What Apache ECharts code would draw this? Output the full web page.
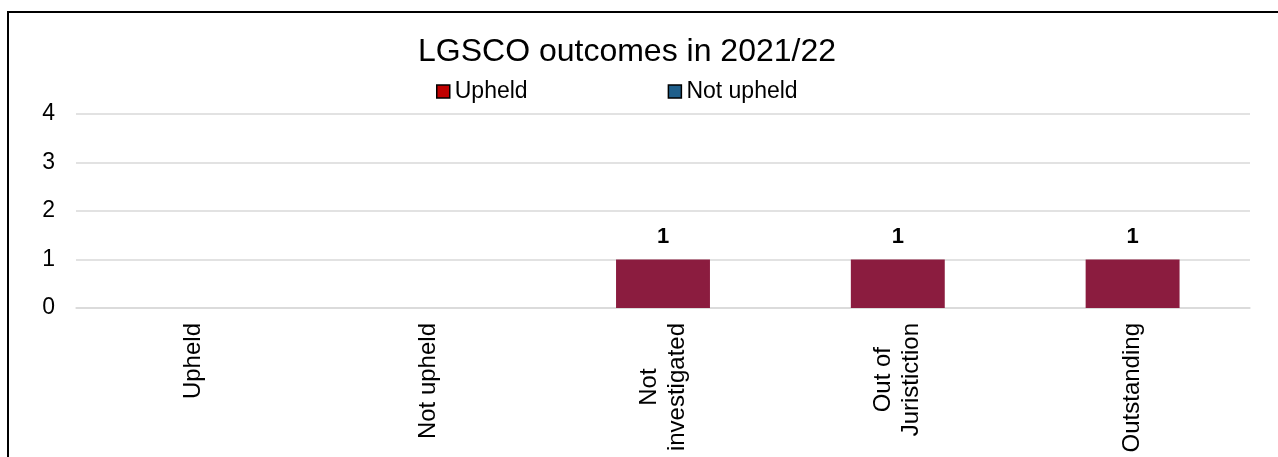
<!DOCTYPE html>
<html>
<head>
<meta charset="utf-8">
<script src="https://cdn.jsdelivr.net/npm/echarts@6/dist/echarts.min.js"></script>
<style>
  html, body { margin: 0; padding: 0; background: #fff; }
  #frame { position: absolute; left: 7px; top: 11px; width: 1300px; height: 480px;
           border-left: 2px solid #000; border-top: 2px solid #000; box-sizing: border-box; }
  #chart { position: absolute; left: 0; top: 0; width: 1278px; height: 457px; }
</style>
</head>
<body>
<div id="frame"></div>
<div id="chart"></div>
<script>
const titleText = 'LGSCO outcomes in 2021/22';
const categories = ['Upheld', 'Not upheld', 'Not\ninvestigated', 'Out of\nJuristiction', 'Outstanding'];
const seriesNames = ['Upheld', 'Not upheld'];
const upheldValues = [0, 0, 1, 1, 1];
const notUpheldValues = [0, 0, 0, 0, 0];
const yTicks = [0, 1, 2, 3, 4];

const FONT = 'Liberation Sans, Arial, sans-serif';
const XFS = 24;

// Centre the lines of multi-line axis labels on each other with spacer tokens.
const ctx = document.createElement('canvas').getContext('2d');
ctx.font = XFS + 'px "Liberation Sans", Arial, sans-serif';
const rich = { t: { fontFamily: FONT, fontSize: XFS, color: '#000', lineHeight: 28 } };
const labelMap = {};
categories.forEach((cat, i) => {
  const lines = cat.split('\n');
  const widths = lines.map(s => ctx.measureText(s).width);
  const maxW = Math.max(...widths);
  labelMap[cat] = lines.map((s, j) => {
    const pad = (maxW - widths[j]) / 2;
    if (pad < 0.5) return '{t|' + s + '}';
    const key = 's' + i + '_' + j;
    rich[key] = { width: pad, fontSize: XFS, lineHeight: 28 };
    return '{' + key + '|\u00a0}{t|' + s + '}{' + key + '|\u00a0}';
  }).join('\n');
});

const chart = echarts.init(document.getElementById('chart'));
chart.setOption({
  backgroundColor: 'transparent',
  animation: false,
  title: {
    text: titleText,
    left: 413, top: 31,
    textStyle: { fontFamily: FONT, fontSize: 32, fontWeight: 'normal', color: '#000' }
  },
  legend: {
    left: 431, top: 75,
    itemWidth: 13, itemHeight: 13, itemGap: 140,
    icon: 'rect',
    textStyle: { fontFamily: FONT, fontSize: 23, color: '#000' },
    itemStyle: { borderColor: '#000', borderWidth: 1.5 },
    data: [
      { name: seriesNames[0], itemStyle: { color: '#C00000', borderColor: '#000', borderWidth: 1.5 } },
      { name: seriesNames[1], itemStyle: { color: '#1F5F8B', borderColor: '#000', borderWidth: 1.5 } }
    ]
  },
  grid: { left: 76, right: 28, top: 114, bottom: 149, containLabel: false },
  xAxis: {
    type: 'category',
    data: categories,
    axisTick: { show: false },
    axisLine: { show: true, lineStyle: { color: '#d9d9d9', width: 1.5 } },
    axisLabel: {
      rotate: 90, margin: 15, interval: 0,
      fontFamily: FONT, fontSize: XFS, color: '#000', lineHeight: 28,
      formatter: v => labelMap[v],
      rich: rich
    }
  },
  yAxis: {
    type: 'value',
    min: yTicks[0], max: yTicks[yTicks.length - 1], interval: 1,
    axisLine: { show: false },
    axisTick: { show: false },
    splitLine: { lineStyle: { color: '#d9d9d9', width: 1.5 } },
    axisLabel: { margin: 21, fontFamily: FONT, fontSize: 23, color: '#000' }
  },
  series: [
    {
      name: seriesNames[0], type: 'bar', stack: 'total', barWidth: '40%',
      data: upheldValues,
      itemStyle: { color: '#8B1C3F' },
      label: {
        show: true, position: 'top', distance: 12,
        fontFamily: FONT, fontSize: 22, fontWeight: 'bold', color: '#000',
        formatter: p => (p.value ? String(p.value) : '')
      }
    },
    {
      name: seriesNames[1], type: 'bar', stack: 'total', barWidth: '40%',
      data: notUpheldValues,
      itemStyle: { color: '#1F5F8B' }
    }
  ]
});
</script>
</body>
</html>
